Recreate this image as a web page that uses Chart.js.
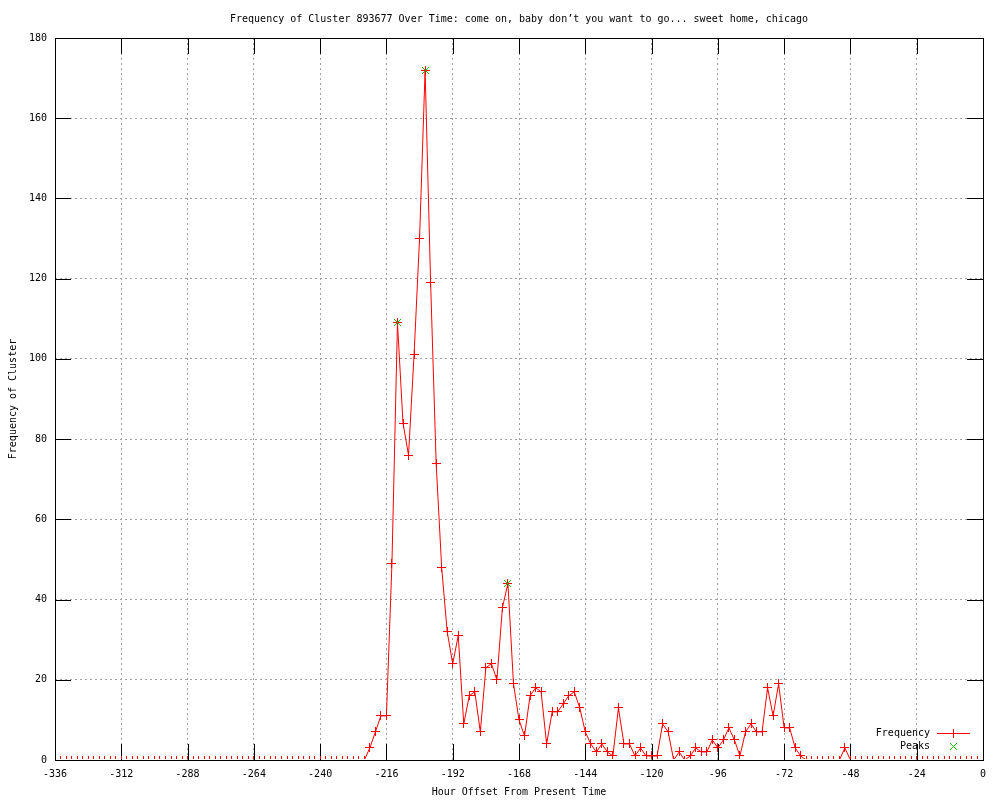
<!DOCTYPE html>
<html>
<head>
<meta charset="utf-8">
<title>Frequency of Cluster 893677</title>
<script src="https://cdn.jsdelivr.net/npm/chart.js@4"></script>
<style>
  html, body { margin: 0; padding: 0; background: #fff; }
</style>
</head>
<body>
<canvas id="chart" width="1000" height="800"></canvas>
<script>
// hour offsets (every 2 hours) and cluster frequency
const hours = [
  -336, -334, -332, -330, -328, -326, -324, -322, -320, -318, -316, -314,
  -312, -310, -308, -306, -304, -302, -300, -298, -296, -294, -292, -290,
  -288, -286, -284, -282, -280, -278, -276, -274, -272, -270, -268, -266,
  -264, -262, -260, -258, -256, -254, -252, -250, -248, -246, -244, -242,
  -240, -238, -236, -234, -232, -230, -228, -226, -224, -222, -220, -218,
  -216, -214, -212, -210, -208, -206, -204, -202, -200, -198, -196, -194,
  -192, -190, -188, -186, -184, -182, -180, -178, -176, -174, -172, -170,
  -168, -166, -164, -162, -160, -158, -156, -154, -152, -150, -148, -146,
  -144, -142, -140, -138, -136, -134, -132, -130, -128, -126, -124, -122,
  -120, -118, -116, -114, -112, -110, -108, -106, -104, -102, -100, -98,
  -96, -94, -92, -90, -88, -86, -84, -82, -80, -78, -76, -74,
  -72, -70, -68, -66, -64, -62, -60, -58, -56, -54, -52, -50,
  -48, -46, -44, -42, -40, -38, -36, -34, -32, -30, -28, -26,
  -24, -22, -20, -18, -16, -14, -12, -10, -8, -6, -4, -2,
  0
];
const frequency = [
  0, 0, 0, 0, 0, 0, 0, 0, 0, 0, 0, 0,
  0, 0, 0, 0, 0, 0, 0, 0, 0, 0, 0, 0,
  0, 0, 0, 0, 0, 0, 0, 0, 0, 0, 0, 0,
  0, 0, 0, 0, 0, 0, 0, 0, 0, 0, 0, 0,
  0, 0, 0, 0, 0, 0, 0, 0, 0, 3, 7, 11,
  11, 49, 109, 84, 76, 101, 130, 172, 119, 74, 48, 32,
  24, 31, 9, 16, 17, 7, 23, 24, 20, 38, 44, 19,
  10, 6, 16, 18, 17, 4, 12, 12, 14, 16, 17, 13,
  7, 4, 2, 4, 2, 1, 13, 4, 4, 1, 3, 1,
  1, 1, 9, 7, 0, 2, 0, 1, 3, 2, 2, 5,
  3, 5, 8, 5, 1, 7, 9, 7, 7, 18, 11, 19,
  8, 8, 3, 1, 0, 0, 0, 0, 0, 0, 0, 3,
  0, 0, 0, 0, 0, 0, 0, 0, 0, 0, 0, 0,
  0, 0, 0, 0, 0, 0, 0, 0, 0, 0, 0, 0,
  0
];
const peakHours = [-212, -202, -172];
const peakValues = [109, 172, 44];

const xTicks = [-336, -312, -288, -264, -240, -216, -192, -168, -144, -120, -96, -72, -48, -24, 0];
const yTicks = [0, 20, 40, 60, 80, 100, 120, 140, 160, 180];

const FONT = '"DejaVu Sans Mono", "Liberation Mono", monospace';
const RED = '#ff0000';
const GREEN = '#00c000';

Chart.defaults.color = '#000';
Chart.defaults.font.family = FONT;
Chart.defaults.font.size = 10;

// small pixel sprites so the markers stay crisp like gnuplot's
function plusSprite(color) {
  const c = document.createElement('canvas');
  c.width = 9; c.height = 9;
  const g = c.getContext('2d');
  g.fillStyle = color;
  g.fillRect(4, 0, 1, 9);
  g.fillRect(0, 4, 9, 1);
  return c;
}
function xSprite(color) {
  const c = document.createElement('canvas');
  c.width = 7; c.height = 7;
  const g = c.getContext('2d');
  g.fillStyle = color;
  for (let i = 0; i < 7; i++) {
    g.fillRect(i, i, 1, 1);
    g.fillRect(6 - i, i, 1, 1);
  }
  return c;
}
const plusMark = plusSprite(RED);
const peakMark = xSprite(GREEN);

// gnuplot style: inward mirrored tics, black border, legend in lower right
const gnuplotFrame = {
  id: 'gnuplotFrame',
  beforeDatasetsDraw(chart) {
    const { ctx, chartArea: a, scales: { x, y } } = chart;
    ctx.save();
    ctx.strokeStyle = '#000';
    ctx.lineWidth = 1;
    ctx.beginPath();
    xTicks.slice(1, -1).forEach(v => {
      const px = Math.round(x.getPixelForValue(v)) + 0.5;
      ctx.moveTo(px, a.bottom); ctx.lineTo(px, a.bottom - 16);
      ctx.moveTo(px, a.top); ctx.lineTo(px, a.top + 16);
    });
    yTicks.slice(1, -1).forEach(v => {
      const py = Math.round(y.getPixelForValue(v)) + 0.5;
      ctx.moveTo(a.left, py); ctx.lineTo(a.left + 16, py);
      ctx.moveTo(a.right, py); ctx.lineTo(a.right - 16, py);
    });
    ctx.stroke();
    ctx.restore();
    ctx.imageSmoothingEnabled = false;
  },
  afterDatasetsDraw(chart) {
    const { ctx, chartArea: a } = chart;
    ctx.imageSmoothingEnabled = true;
    ctx.save();
    ctx.strokeStyle = '#000';
    ctx.lineWidth = 1;
    ctx.strokeRect(a.left + 0.5, a.top + 0.5, a.right - a.left, a.bottom - a.top);

    // legend
    ctx.font = '10px ' + FONT;
    ctx.fillStyle = '#000';
    ctx.textAlign = 'right';
    ctx.textBaseline = 'middle';
    ctx.fillText('Frequency', 930, 733);
    ctx.fillText('Peaks', 930, 746);
    ctx.fillStyle = RED;
    ctx.fillRect(937, 733, 33, 1);
    ctx.drawImage(plusMark, 949, 729);
    ctx.drawImage(peakMark, 950, 743);
    ctx.restore();
  }
};

const gridColor = c => (c.tick && (c.index === 0 || c.index === c.scale.ticks.length - 1)) ? 'rgba(0,0,0,0)' : '#a0a0a0';

new Chart(document.getElementById('chart').getContext('2d'), {
  type: 'line',
  data: {
    datasets: [{
      label: 'Frequency',
      data: hours.map((h, i) => ({ x: h, y: frequency[i] })),
      borderColor: RED,
      borderWidth: 1,
      pointStyle: plusMark,
      pointRadius: 4,
      tension: 0,
      clip: { left: 0, top: 0, right: 0, bottom: -1 },
      order: 2
    }, {
      label: 'Peaks',
      data: peakHours.map((h, i) => ({ x: h, y: peakValues[i] })),
      showLine: false,
      pointStyle: peakMark,
      pointRadius: 4,
      order: 1
    }]
  },
  options: {
    responsive: false,
    animation: false,
    events: [],
    layout: { padding: { left: 0, right: 17, top: 0, bottom: 0 } },
    plugins: {
      legend: { display: false },
      tooltip: { enabled: false },
      title: {
        display: true,
        fullSize: false,
        text: 'Frequency of Cluster 893677 Over Time: come on, baby don\u2019t you want to go... sweet home, chicago',
        font: { size: 10, weight: 'normal', lineHeight: 1.2 },
        padding: { top: 13, bottom: 13 },
        color: '#000'
      }
    },
    scales: {
      x: {
        type: 'linear',
        min: -336,
        max: 0,
        afterBuildTicks: s => { s.ticks = xTicks.map(v => ({ value: v })); },
        afterFit: s => { s.height = 40; },
        ticks: { padding: 8, maxRotation: 0, autoSkip: false, callback: v => String(v) },
        grid: { color: gridColor, drawTicks: false, lineWidth: 1 },
        border: { display: false, dash: [2, 3] },
        title: { display: true, text: 'Hour Offset From Present Time', padding: { top: 0, bottom: 2 } }
      },
      y: {
        min: 0,
        max: 180,
        afterBuildTicks: s => { s.ticks = yTicks.map(v => ({ value: v })); },
        afterFit: s => { s.width = 55; },
        ticks: { padding: 8, autoSkip: false },
        grid: { color: gridColor, drawTicks: false, lineWidth: 1 },
        border: { display: false, dash: [2, 3] },
        title: { display: true, text: 'Frequency of Cluster', padding: { top: 7, bottom: 0 } }
      }
    }
  },
  plugins: [gnuplotFrame]
});
</script>
</body>
</html>
